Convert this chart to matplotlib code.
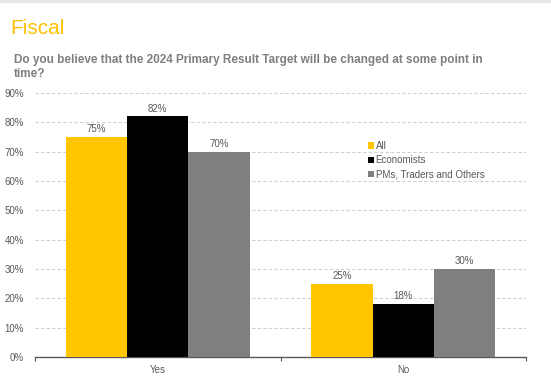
import matplotlib
matplotlib.use("Agg")
import matplotlib.pyplot as plt
import numpy as np
from matplotlib.ticker import PercentFormatter

plt.rcParams['font.family'] = ['Liberation Sans', 'DejaVu Sans']

categories = ["Yes", "No"]
series_names = ["All", "Economists", "PMs, Traders and Others"]
values = {
    "All": [75, 25],
    "Economists": [82, 18],
    "PMs, Traders and Others": [70, 30],
}
colors = ["#FFC600", "#000000", "#7F7F7F"]
yticks = [0, 10, 20, 30, 40, 50, 60, 70, 80, 90]

W, H = 551, 381
fig = plt.figure(figsize=(W/100, H/100), dpi=100)
ax = fig.add_axes([35/W, (H-357)/H, (526-35)/W, (357-93)/H])

x = np.arange(len(categories))
bw = 0.25
for i, (name, c) in enumerate(zip(series_names, colors)):
    vals = values[name]
    pos = x + (i - 1) * bw
    ax.bar(pos, vals, width=bw, color=c, label=name, zorder=3)
    for p, v in zip(pos, vals):
        ax.text(p, v + 1.0, f"{v}%", ha="center", va="bottom", fontsize=7, color="#595959", zorder=4)

ax.set_xlim(-0.5, 1.5)
ax.set_ylim(0, 90)
ax.set_yticks(yticks)
ax.yaxis.set_major_formatter(PercentFormatter(decimals=0))
ax.tick_params(axis='y', length=0, labelsize=7, labelcolor="#595959", pad=8)
ax.grid(axis='y', linestyle=(0, (3, 2)), color="#D0D0D0", linewidth=0.8, zorder=0)
ax.set_xticks([-0.5, 0.5, 1.5])
ax.set_xticklabels([])
ax.set_xticks(x, minor=True)
ax.set_xticklabels(categories, minor=True)
ax.tick_params(axis='x', which='major', length=3, color="#595959", direction='out')
ax.tick_params(axis='x', which='minor', length=0, labelsize=7, labelcolor="#595959", pad=6)
for s in ["left", "right", "top"]:
    ax.spines[s].set_visible(False)
ax.spines["bottom"].set_color("#595959")
ax.spines["bottom"].set_linewidth(1.0)

ax.legend(loc="upper left", bbox_to_anchor=((363-35)/(526-35), (357-136)/(357-93)),
          frameon=False, fontsize=7, handlelength=0.6, handleheight=0.6,
          handletextpad=0.2, labelspacing=0.45, labelcolor="#595959", borderpad=0)

fig.text(10/W, 1 - 34/H, "Fiscal", fontsize=15, color="#FFC000", ha="left", va="baseline")
fig.text(14/W, 1 - 63/H, "Do you believe that the 2024 Primary Result Target will be changed at some point in",
         fontsize=8.5, fontweight="bold", color="#7F7F7F", ha="left", va="baseline")
fig.text(14/W, 1 - 77/H, "time?", fontsize=8.5, fontweight="bold", color="#7F7F7F", ha="left", va="baseline")

fig.add_artist(plt.Line2D([0, 1], [1 - 1/H, 1 - 1/H], transform=fig.transFigure, color="#E5E5E5", linewidth=2))

fig.savefig("out.png", dpi=100)
